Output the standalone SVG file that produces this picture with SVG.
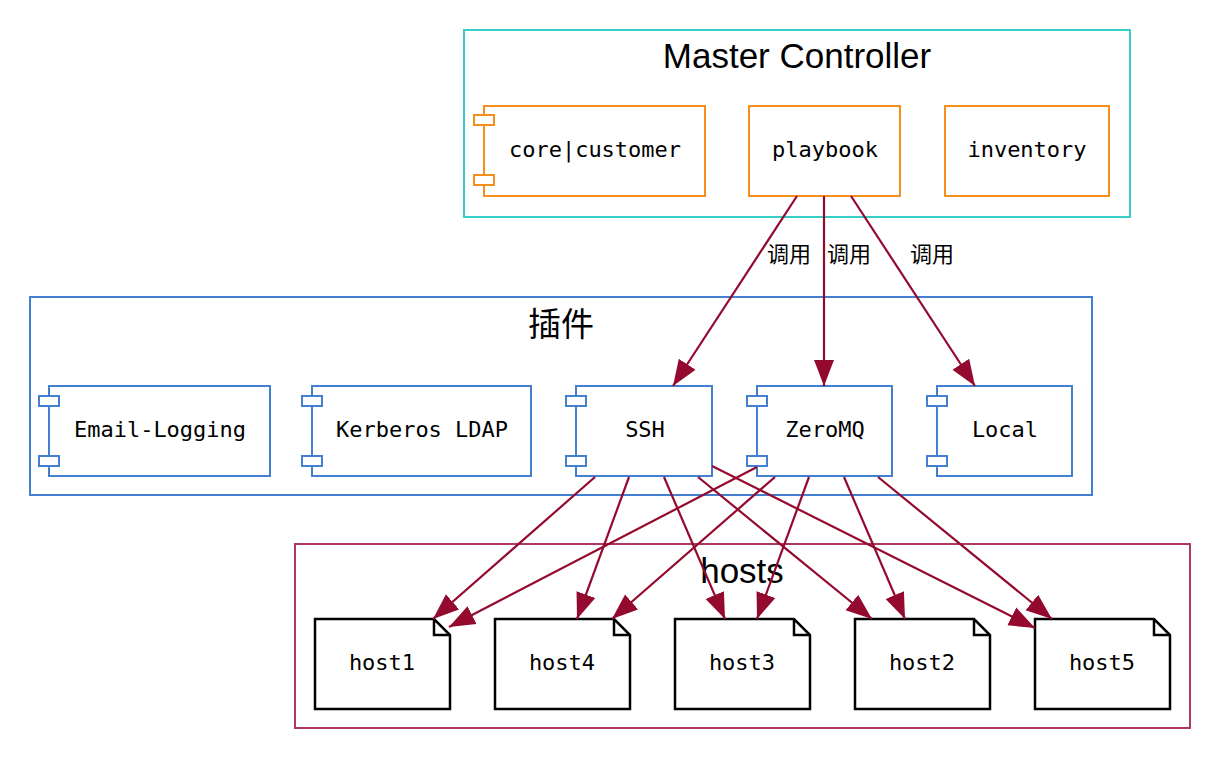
<svg xmlns="http://www.w3.org/2000/svg" width="1220" height="759" viewBox="0 0 1220 759">
<style>
.title{font-family:"Liberation Sans",Arial,"Noto Sans CJK SC",sans-serif;font-size:35px;fill:#000;text-anchor:middle}
.lbl{font-family:"DejaVu Sans Mono","Liberation Mono",monospace;font-size:22px;fill:#000;text-anchor:middle}
.cjk{font-family:"Noto Sans CJK SC",sans-serif;font-size:22px;fill:#000;text-anchor:middle}
.mc{fill:none;stroke:#36CEC6;stroke-width:2}
.orange{fill:#fff;stroke:#F78F1E;stroke-width:2}
.plug{fill:none;stroke:#4380CF;stroke-width:2}
.blue{fill:#fff;stroke:#4380CF;stroke-width:2}
.hostsc{fill:none;stroke:#AE3A63;stroke-width:2}
.doc{fill:#fff;stroke:#000;stroke-width:2.5;stroke-linejoin:miter}
.edge{fill:none;stroke:#940A2F;stroke-width:2.2}
</style>
<defs>
<marker id="ah" markerUnits="userSpaceOnUse" markerWidth="28" markerHeight="22" refX="26" refY="11" orient="auto" viewBox="0 0 28 22">
<path d="M0,1 L26,11 L0,21 Z" fill="#940A2F"/>
</marker>
</defs>
<rect width="1220" height="759" fill="#fff"/>

<g id="master-controller">
<rect class="mc" x="464" y="30" width="666" height="187"/>
<text class="title" x="797" y="68">Master Controller</text>
</g>
<g id="core-customer">
<rect class="orange" x="484" y="106" width="221" height="90"/>
<rect class="orange" x="474" y="115" width="20" height="10"/>
<rect class="orange" x="474" y="175" width="20" height="10"/>
<text class="lbl" x="595" y="157">core|customer</text>
</g>
<g id="playbook">
<rect class="orange" x="749" y="106" width="151" height="90"/>
<text class="lbl" x="825" y="157">playbook</text>
</g>
<g id="inventory">
<rect class="orange" x="945" y="106" width="164" height="90"/>
<text class="lbl" x="1027" y="157">inventory</text>
</g>

<g id="plugins">
<rect class="plug" x="30" y="297" width="1062" height="198"/>
<text class="title" x="561" y="336" style="font-family:'Noto Sans CJK SC',sans-serif;font-size:33px">插件</text>
</g>
<g id="email-logging">
<rect class="blue" x="49" y="386" width="221" height="90"/>
<rect class="blue" x="39" y="396" width="20" height="10"/>
<rect class="blue" x="39" y="456" width="20" height="10"/>
<text class="lbl" x="160" y="437">Email-Logging</text>
</g>
<g id="kerberos-ldap">
<rect class="blue" x="312" y="386" width="219" height="90"/>
<rect class="blue" x="302" y="396" width="20" height="10"/>
<rect class="blue" x="302" y="456" width="20" height="10"/>
<text class="lbl" x="422" y="437">Kerberos LDAP</text>
</g>
<g id="ssh">
<rect class="blue" x="576" y="386" width="136" height="90"/>
<rect class="blue" x="566" y="396" width="20" height="10"/>
<rect class="blue" x="566" y="456" width="20" height="10"/>
<text class="lbl" x="645" y="437">SSH</text>
</g>
<g id="zeromq">
<rect class="blue" x="757" y="386" width="135" height="90"/>
<rect class="blue" x="747" y="396" width="20" height="10"/>
<rect class="blue" x="747" y="456" width="20" height="10"/>
<text class="lbl" x="825" y="437">ZeroMQ</text>
</g>
<g id="local">
<rect class="blue" x="937" y="386" width="135" height="90"/>
<rect class="blue" x="927" y="396" width="20" height="10"/>
<rect class="blue" x="927" y="456" width="20" height="10"/>
<text class="lbl" x="1005" y="437">Local</text>
</g>

<g id="hosts">
<rect class="hostsc" x="295" y="544" width="895" height="184"/>
<text class="title" x="742" y="583">hosts</text>
</g>
<g id="host1">
<path class="doc" d="M315,619 L434,619 L450,635 L450,709 L315,709 Z M434,619 L434,635 L450,635"/>
<text class="lbl" x="382" y="670">host1</text>
</g>
<g id="host4">
<path class="doc" d="M495,619 L614,619 L630,635 L630,709 L495,709 Z M614,619 L614,635 L630,635"/>
<text class="lbl" x="562" y="670">host4</text>
</g>
<g id="host3">
<path class="doc" d="M675,619 L794,619 L810,635 L810,709 L675,709 Z M794,619 L794,635 L810,635"/>
<text class="lbl" x="742" y="670">host3</text>
</g>
<g id="host2">
<path class="doc" d="M855,619 L974,619 L990,635 L990,709 L855,709 Z M974,619 L974,635 L990,635"/>
<text class="lbl" x="922" y="670">host2</text>
</g>
<g id="host5">
<path class="doc" d="M1035,619 L1154,619 L1170,635 L1170,709 L1035,709 Z M1154,619 L1154,635 L1170,635"/>
<text class="lbl" x="1102" y="670">host5</text>
</g>

<g id="connectors">
<line class="edge" x1="797" y1="196" x2="673" y2="386" marker-end="url(#ah)"/>
<line class="edge" x1="824" y1="196" x2="824" y2="386" marker-end="url(#ah)"/>
<line class="edge" x1="851" y1="196" x2="975" y2="386" marker-end="url(#ah)"/>
<text class="cjk" x="789" y="262">调用</text>
<text class="cjk" x="849" y="262">调用</text>
<text class="cjk" x="932" y="262">调用</text>

<line class="edge" x1="595" y1="477" x2="433" y2="619" marker-end="url(#ah)"/>
<line class="edge" x1="629" y1="477" x2="577" y2="619" marker-end="url(#ah)"/>
<line class="edge" x1="664" y1="477" x2="725" y2="619" marker-end="url(#ah)"/>
<line class="edge" x1="698" y1="477" x2="872" y2="619" marker-end="url(#ah)"/>
<line class="edge" x1="712" y1="466" x2="1035" y2="628" marker-end="url(#ah)"/>

<line class="edge" x1="757" y1="467" x2="449" y2="627" marker-end="url(#ah)"/>
<line class="edge" x1="775" y1="477" x2="612" y2="619" marker-end="url(#ah)"/>
<line class="edge" x1="809" y1="477" x2="757" y2="619" marker-end="url(#ah)"/>
<line class="edge" x1="844" y1="477" x2="905" y2="619" marker-end="url(#ah)"/>
<line class="edge" x1="878" y1="477" x2="1052" y2="619" marker-end="url(#ah)"/>
</g>
</svg>
